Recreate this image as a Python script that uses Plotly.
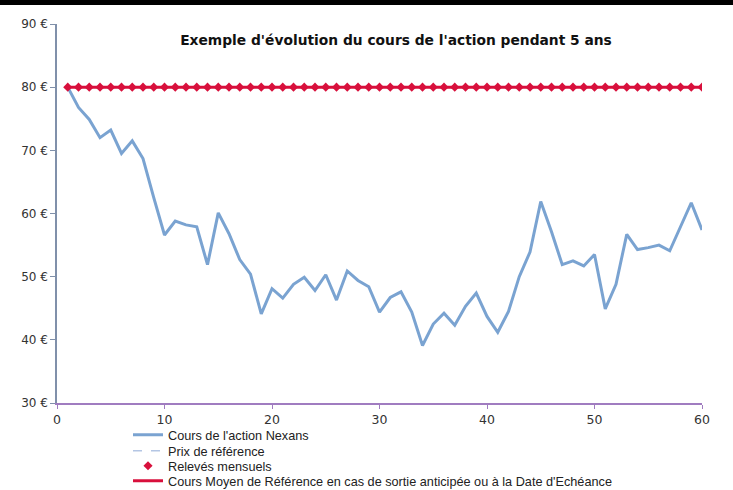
import plotly.graph_objects as go

months = list(range(1, 61))
cours = [80, 76.8, 74.9, 72.0, 73.2, 69.5, 71.5, 68.7, 62.5, 56.6,
         58.8, 58.2, 57.9, 51.9, 60.1, 56.8, 52.7, 50.4, 44.1, 48.1,
         46.6, 48.8, 49.9, 47.8, 50.3, 46.3, 50.9, 49.4, 48.4, 44.4,
         46.7, 47.6, 44.4, 39.1, 42.5, 44.2, 42.3, 45.3, 47.4, 43.7,
         41.2, 44.5, 50.0, 53.9, 61.9, 57.1, 51.9, 52.5, 51.7, 53.5,
         44.9, 48.8, 56.7, 54.3, 54.6, 55.0, 54.1, 57.9, 61.7, 57.4]
prix_reference = [80] * 60
releves = [80] * 60
cours_moyen = [80] * 60

names = ["Cours de l'action Nexans", "Prix de référence", "Relevés mensuels",
         "Cours Moyen de Référence en cas de sortie anticipée ou à la Date d'Echéance"]
y_ticks = [30, 40, 50, 60, 70, 80, 90]
y_ticklabels = [f"{v} €" for v in y_ticks]
x_ticks = [0, 10, 20, 30, 40, 50, 60]

W, HT = 733, 490
fig = go.Figure()
fig.add_trace(go.Scatter(x=months, y=prix_reference, mode="lines", name=names[1],
                         legend="legend2",
                         line=dict(color="#b4c6e4", width=1.5, dash="dash")))
fig.add_trace(go.Scatter(x=months, y=cours, mode="lines", name=names[0],
                         legend="legend",
                         line=dict(color="#7aa3d1", width=3)))
fig.add_trace(go.Scatter(x=months, y=cours_moyen, mode="lines", name=names[3],
                         legend="legend4",
                         line=dict(color="#d8103c", width=3)))
fig.add_trace(go.Scatter(x=months, y=releves, mode="markers", name=names[2],
                         legend="legend3",
                         marker=dict(symbol="diamond", color="#d8103c", size=7)))

L, R, T, B = 57, 31, 24, 87
H = HT - T - B


def leg(ypx):
    return dict(x=128 / W, y=1 - ypx / HT, xref="container", yref="container",
                xanchor="left", yanchor="middle",
                font=dict(family="Liberation Sans", size=12.7, color="#222222"),
                bgcolor="rgba(0,0,0,0)")


fig.update_layout(
    width=W, height=HT,
    margin=dict(l=L, r=R, t=T, b=B, autoexpand=False),
    paper_bgcolor="white", plot_bgcolor="white",
    font=dict(family="DejaVu Sans", color="#333333"),
    title=dict(text="<b>Exemple d'évolution du cours de l'action pendant 5 ans</b>",
               x=396 / W, xanchor="center", y=1 - 40 / HT, yanchor="middle",
               font=dict(family="DejaVu Sans", size=13.8, color="#111111")),
    showlegend=True,
    legend=leg(435), legend2=leg(451), legend3=leg(466), legend4=leg(481),
    xaxis=dict(range=[0, 60], tickvals=x_ticks, showgrid=False, zeroline=False,
               automargin=False,
               showline=True, linecolor="#a07cc0", linewidth=1.5,
               ticks="outside", ticklen=4, tickcolor="#a07cc0",
               tickfont=dict(family="DejaVu Sans", size=12.5, color="#333333")),
    yaxis=dict(range=[30, 90], tickvals=y_ticks, ticktext=y_ticklabels, showgrid=False,
               automargin=False,
               zeroline=False, showline=True, linecolor="#8090aa", linewidth=1.5,
               ticks="outside", ticklen=5, tickcolor="#8090aa",
               tickfont=dict(family="DejaVu Sans", size=12, color="#333333")),
)
fig.add_shape(type="rect", xref="paper", yref="paper",
              x0=-L / (W - L - R), x1=1 + R / (W - L - R),
              y0=1 + (T - 5) / H, y1=1 + T / H,
              fillcolor="black", line=dict(width=0), layer="above")

fig.write_html("out.html", config={"displayModeBar": False},
               post_script="document.body.style.margin='0';document.body.style.overflow='hidden';")
